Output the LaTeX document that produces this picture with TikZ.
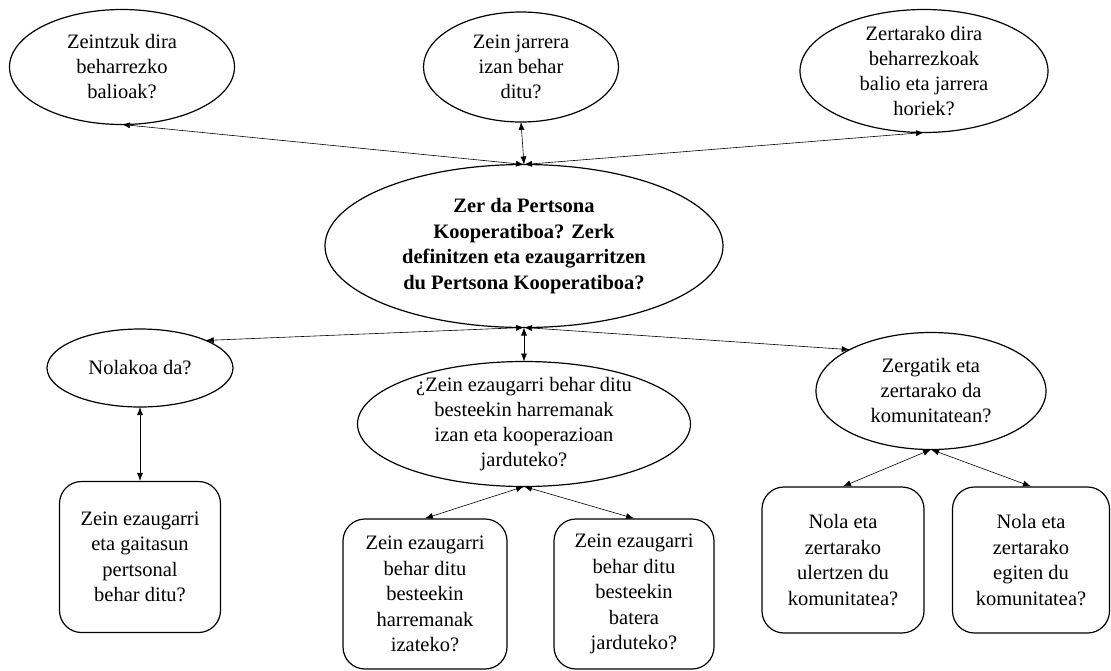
\documentclass[tikz,border=0pt]{standalone}
\usepackage{fontspec}
\setmainfont{Liberation Serif}
\usetikzlibrary{shapes.geometric,arrows.meta}
\tikzset{bubble/.style = {ellipse, draw=black, line width=1.2pt, inner sep=0pt, outer sep=0pt}}
\tikzset{qbox/.style = {rectangle, rounded corners=22pt, draw=black, line width=1.2pt, align=center, inner sep=0pt, font=\fontsize{20.5}{25.5}\selectfont}}
\tikzset{qtext/.style = {align=center, inner sep=0pt, font=\fontsize{20.5}{25}\selectfont}}
\tikzset{link/.style={line width=0.6pt,<->}}

\begin{document}
\begin{tikzpicture}[x=1pt,y=-1pt]
	\tikzset{>={Latex[length=8pt,width=6pt]}}
	\useasboundingbox (0,0) rectangle (1111,670);
	% goiko galderak
	\node[bubble, minimum width=225, minimum height=115, label={[qtext]center:{Zeintzuk dira\\beharrezko\\balioak?}}] (balioak) at (122,67) {};
	\node[bubble, minimum width=195, minimum height=110, label={[qtext]center:{Zein jarrera\\izan behar\\ditu?}}] (jarrera) at (521,67) {};
	\node[bubble, minimum width=248, minimum height=123, label={[qtext]center:{Zertarako dira\\beharrezkoak\\balio eta jarrera\\horiek?}}] (zertarako) at (924,71) {};
	% galdera nagusia
	\node[bubble, minimum width=398, minimum height=163, label={[qtext, font=\fontsize{20.5}{25.5}\selectfont\bfseries]center:{Zer da Pertsona\\Kooperatiboa? Zerk\\definitzen eta ezaugarritzen\\du Pertsona Kooperatiboa?}}] (nagusia) at (524,246) {};
	% erdiko errenkada
	\node[bubble, minimum width=186, minimum height=78, label={[qtext]center:{Nolakoa da?}}] (nolakoa) at (140,368) {};
	\node[bubble, minimum width=333, minimum height=125, label={[qtext]center:{¿Zein ezaugarri behar ditu\\besteekin harremanak\\izan eta kooperazioan\\jarduteko?}}] (harreman) at (524,424) {};
	\node[bubble, minimum width=230, minimum height=117, label={[qtext]center:{Zergatik eta\\zertarako da\\komunitatean?}}] (zergatik) at (931,391) {};
	% beheko kutxak
	\node[qbox, minimum width=161, minimum height=151] (gaitasun) at (140,557) {Zein ezaugarri\\eta gaitasun\\pertsonal\\behar ditu?};
	\node[qbox, minimum width=164, minimum height=150] (izateko) at (425,594) {Zein ezaugarri\\behar ditu\\besteekin\\harremanak\\izateko?};
	\node[qbox, minimum width=160, minimum height=150] (batera) at (634,594) {Zein ezaugarri\\behar ditu\\besteekin\\batera\\jarduteko?};
	\node[qbox, minimum width=162, minimum height=146] (ulertzen) at (843,560) {Nola eta\\zertarako\\ulertzen du\\komunitatea?};
	\node[qbox, minimum width=157, minimum height=146] (egiten) at (1031,560) {Nola eta\\zertarako\\egiten du\\komunitatea?};
	% loturak
	\draw[link] (nagusia.north) -- (balioak.south);
	\draw[link] (nagusia.north) -- (jarrera.south);
	\draw[link] (nagusia.north) -- (zertarako.south);
	\draw[link] (nagusia.south) -- (nolakoa.north east);
	\draw[link] (nagusia.south) -- (harreman.north);
	\draw[link] (nagusia.south) -- (zergatik.north west);
	\draw[link] (nolakoa.south) -- (gaitasun.north);
	\draw[link] (harreman.south) -- (izateko.north);
	\draw[link] (harreman.south) -- (batera.north);
	\draw[link] (zergatik.south) -- (ulertzen.north);
	\draw[link] (zergatik.south) -- (egiten.north);
\end{tikzpicture}
\end{document}
